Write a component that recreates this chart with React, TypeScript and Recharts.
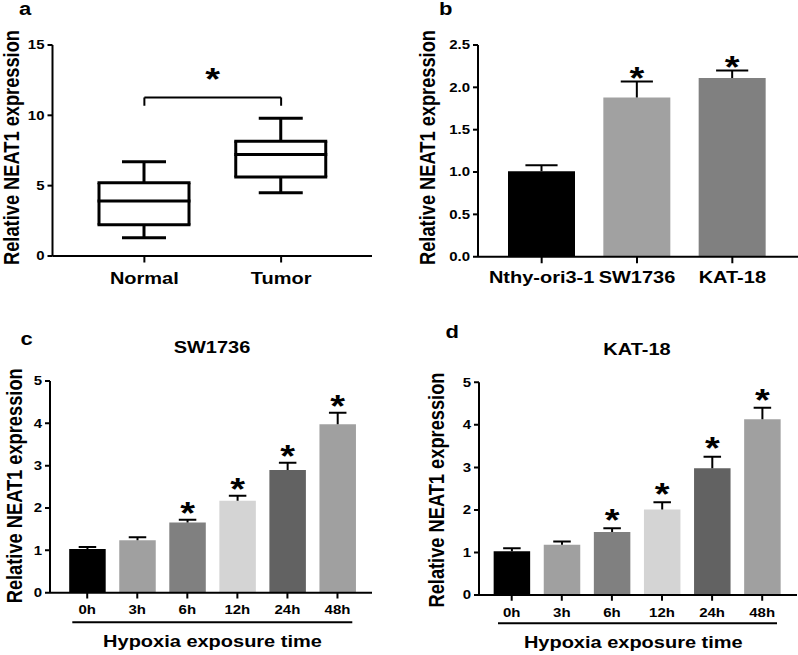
import React from 'react';
import { BarChart, Bar, XAxis, YAxis, Cell, ReferenceLine } from 'recharts';

const FONT = '"Liberation Sans", Arial, Helvetica, sans-serif';
const SY = 0.83; // the figure is vertically compressed

// ---------- Panel a (box plot) ----------
const boxGroups = ['Normal', 'Tumor'];
const boxMin = [1.3, 4.49];
const boxQ1 = [2.22, 5.62];
const boxMedian = [3.9, 7.21];
const boxQ3 = [5.2, 8.15];
const boxMax = [6.69, 9.8];
const aTicks = [0, 5, 10, 15];
const bracketY = 11.27;
const bracketLegY = 10.68;
const starText = '*';

// ---------- Panel b ----------
const cellLines = ['Nthy-ori3-1', 'SW1736', 'KAT-18'];
const cellMeans = [1.01, 1.88, 2.11];
const cellErr = [0.07, 0.19, 0.09];
const cellSig = [false, true, true];
const cellColors = ['#000000', '#a1a1a1', '#808080'];
const bTicks = [0, 0.5, 1, 1.5, 2, 2.5];

// ---------- Panels c, d ----------
const hypoxiaTimes = ['0h', '3h', '6h', '12h', '24h', '48h'];
const swMeans = [1.03, 1.24, 1.66, 2.17, 2.9, 3.98];
const swErr = [0.05, 0.07, 0.06, 0.12, 0.17, 0.27];
const katMeans = [1.03, 1.18, 1.48, 2.01, 2.98, 4.13];
const katErr = [0.07, 0.08, 0.09, 0.17, 0.27, 0.27];
const timeSig = [false, false, true, true, true, true];
const timeColors = ['#000000', '#a0a0a0', '#808080', '#d4d4d4', '#626262', '#a0a0a0'];
const cdTicks = [0, 1, 2, 3, 4, 5];

const yLabelText = 'Relative NEAT1 expression';
const xLabelText = 'Hypoxia exposure time';

const boxData = boxGroups.map((name, i) => ({
  name,
  base: boxMin[i],
  lowWhisker: boxQ1[i] - boxMin[i],
  lowBox: boxMedian[i] - boxQ1[i],
  highBox: boxQ3[i] - boxMedian[i],
  highWhisker: boxMax[i] - boxQ3[i],
}));
const cellData = cellLines.map((name, i) => ({ name, mean: cellMeans[i], err: cellErr[i], sig: cellSig[i] }));
const swData = hypoxiaTimes.map((name, i) => ({ name, mean: swMeans[i], err: swErr[i], sig: timeSig[i] }));
const katData = hypoxiaTimes.map((name, i) => ({ name, mean: katMeans[i], err: katErr[i], sig: timeSig[i] }));

const HW = 2 / SY; // horizontal line width
const BOXW = 3;

const LowWhisker = (p: any) => {
  const cx = p.x + p.width / 2;
  const cap = 22;
  return (
    <g>
      <line x1={cx} x2={cx} y1={p.y} y2={p.y + p.height} stroke="#000" strokeWidth={BOXW} />
      <line x1={cx - cap} x2={cx + cap} y1={p.y + p.height} y2={p.y + p.height} stroke="#000" strokeWidth={BOXW / SY} />
    </g>
  );
};
const HighWhisker = (p: any) => {
  const cx = p.x + p.width / 2;
  const cap = 22;
  return (
    <g>
      <line x1={cx} x2={cx} y1={p.y} y2={p.y + p.height} stroke="#000" strokeWidth={BOXW} />
      <line x1={cx - cap} x2={cx + cap} y1={p.y} y2={p.y} stroke="#000" strokeWidth={BOXW / SY} />
    </g>
  );
};
const LowBox = (p: any) => {
  const { x, y, width: w, height: h } = p;
  return (
    <g>
      <line x1={x} x2={x} y1={y} y2={y + h} stroke="#000" strokeWidth={BOXW} />
      <line x1={x + w} x2={x + w} y1={y} y2={y + h} stroke="#000" strokeWidth={BOXW} />
      <line x1={x - 1.5} x2={x + w + 1.5} y1={y + h} y2={y + h} stroke="#000" strokeWidth={BOXW / SY} />
      <line x1={x - 1.5} x2={x + w + 1.5} y1={y} y2={y} stroke="#000" strokeWidth={BOXW / SY} />
    </g>
  );
};
const HighBox = (p: any) => {
  const { x, y, width: w, height: h } = p;
  return (
    <g>
      <line x1={x} x2={x} y1={y} y2={y + h} stroke="#000" strokeWidth={BOXW} />
      <line x1={x + w} x2={x + w} y1={y} y2={y + h} stroke="#000" strokeWidth={BOXW} />
      <line x1={x - 1.5} x2={x + w + 1.5} y1={y} y2={y} stroke="#000" strokeWidth={BOXW / SY} />
    </g>
  );
};

const makeErrShape = (sig: boolean[], starDy: number) => (p: any) => {
  const { x, y, width, height } = p;
  const cx = x + width / 2;
  const half = width * 0.24;
  const isSig = p.payload && p.payload.sig !== undefined ? p.payload.sig : sig[p.index];
  return (
    <g>
      <line x1={cx} x2={cx} y1={y} y2={y + height} stroke="#000" strokeWidth={2} />
      <line x1={cx - half} x2={cx + half} y1={y} y2={y} stroke="#000" strokeWidth={HW} />
      {isSig ? (
        <text x={cx} y={y + starDy} textAnchor="middle" fontSize={38} fontWeight={700} fontFamily={FONT} fill="#000">
          {starText}
        </text>
      ) : null}
    </g>
  );
};

const makeYLabel = (X: number, Y: number) => () => (
  <text
    x={X}
    y={Y}
    transform={`rotate(-90 ${X} ${Y})`}
    textAnchor="middle"
    fontSize={22}
    fontWeight={700}
    fontFamily={FONT}
    fill="#000"
  >
    {yLabelText}
  </text>
);

const makeXLabel = (lineL: number, lineR: number, lineDy: number, textDx: number, textDy: number) => (props: any) => {
  const vb = props && props.viewBox;
  if (!vb) return null;
  return (
    <g>
      <line x1={vb.x + lineL} x2={vb.x + vb.width - lineR} y1={vb.y + lineDy} y2={vb.y + lineDy} stroke="#000" strokeWidth={HW} />
      <text x={vb.x + vb.width / 2 + textDx} y={vb.y + textDy} textAnchor="middle" fontSize={20} fontWeight={700} fontFamily={FONT} fill="#000">
        {xLabelText}
      </text>
    </g>
  );
};

const axisLineX = { stroke: '#000', strokeWidth: HW };
const axisLineY = { stroke: '#000', strokeWidth: 2 };
const tickLineX = { stroke: '#000', strokeWidth: 2 };
const tickLineY = { stroke: '#000', strokeWidth: HW };
const yTickStyle = { fill: '#000', fontSize: 15, fontWeight: 700, fontFamily: FONT };

const PanelA = () => (
  <BarChart width={400} height={385} data={boxData} margin={{ top: 54.2, right: 28, bottom: 36.6, left: 0 }}>
    <XAxis
      dataKey="name"
      interval={0}
      padding={{ left: 23.5, right: 22.5 }}
      height={40}
      tickSize={8}
      tickMargin={11}
      axisLine={axisLineX}
      tickLine={tickLineX}
      tick={{ fill: '#000', fontSize: 20, fontWeight: 700, fontFamily: FONT }}
    />
    <YAxis
      type="number"
      domain={[0, 15]}
      ticks={aTicks}
      width={52.5}
      tickSize={5}
      tickMargin={3}
      axisLine={axisLineY}
      tickLine={tickLineY}
      tick={yTickStyle}
      label={makeYLabel(19.5, 177.7)}
    />
    <Bar dataKey="base" stackId="b" fill="none" barSize={90} isAnimationActive={false} />
    <Bar dataKey="lowWhisker" stackId="b" barSize={90} isAnimationActive={false} shape={LowWhisker} />
    <Bar dataKey="lowBox" stackId="b" barSize={90} isAnimationActive={false} shape={LowBox} />
    <Bar dataKey="highBox" stackId="b" barSize={90} isAnimationActive={false} shape={HighBox} />
    <Bar dataKey="highWhisker" stackId="b" barSize={90} isAnimationActive={false} shape={HighWhisker} />
    <ReferenceLine
      segment={[{ x: 'Normal', y: bracketY }, { x: 'Tumor', y: bracketY }]}
      stroke="#000"
      strokeWidth={HW}
      ifOverflow="visible"
      label={{ value: starText, position: 'top', offset: 8.7, fill: '#000', fontSize: 38, fontWeight: 700, fontFamily: FONT }}
    />
    <ReferenceLine segment={[{ x: 'Normal', y: bracketY }, { x: 'Normal', y: bracketLegY }]} stroke="#000" strokeWidth={2} ifOverflow="visible" />
    <ReferenceLine segment={[{ x: 'Tumor', y: bracketY }, { x: 'Tumor', y: bracketLegY }]} stroke="#000" strokeWidth={2} ifOverflow="visible" />
  </BarChart>
);

const PanelB = () => (
  <BarChart width={398} height={385} data={cellData} margin={{ top: 54.2, right: 0, bottom: 35.7, left: 0 }}>
    <XAxis
      dataKey="name"
      interval={0}
      padding={{ left: 16, right: 18 }}
      height={40}
      tickSize={8}
      tickMargin={10}
      axisLine={axisLineX}
      tickLine={tickLineX}
      tick={{ fill: '#000', fontSize: 20, fontWeight: 700, fontFamily: FONT }}
    />
    <YAxis
      type="number"
      domain={[0, 2.5]}
      ticks={bTicks}
      tickFormatter={(v: number) => v.toFixed(1)}
      width={78}
      tickSize={5}
      tickMargin={3}
      axisLine={axisLineY}
      tickLine={tickLineY}
      tick={yTickStyle}
      label={makeYLabel(35.5, 177.7)}
    />
    <Bar dataKey="mean" stackId="s" barSize={67} isAnimationActive={false}>
      {cellColors.map((c, i) => (
        <Cell key={i} fill={c} />
      ))}
    </Bar>
    <Bar dataKey="err" stackId="s" barSize={67} isAnimationActive={false} shape={makeErrShape(cellSig, 9.3)} />
  </BarChart>
);

const TimePanel = (props: {
  data: any[];
  width: number;
  yAxisW: number;
  marginTop: number;
  marginRight: number;
  marginBottom: number;
  padL: number;
  padR: number;
  tickMargin: number;
  starDy: number;
  yLab: [number, number];
  xLab: [number, number, number, number, number];
}) => (
  <BarChart
    width={props.width}
    height={403}
    data={props.data}
    margin={{ top: props.marginTop, right: props.marginRight, bottom: props.marginBottom, left: 0 }}
  >
    <XAxis
      dataKey="name"
      interval={0}
      padding={{ left: props.padL, right: props.padR }}
      height={40}
      tickSize={7}
      tickMargin={props.tickMargin}
      axisLine={axisLineX}
      tickLine={tickLineX}
      tick={{ fill: '#000', fontSize: 15, fontWeight: 700, fontFamily: FONT }}
      label={makeXLabel(...props.xLab)}
    />
    <YAxis
      type="number"
      domain={[0, 5]}
      ticks={cdTicks}
      width={props.yAxisW}
      tickSize={5}
      tickMargin={3}
      axisLine={axisLineY}
      tickLine={tickLineY}
      tick={yTickStyle}
      label={makeYLabel(props.yLab[0], props.yLab[1])}
    />
    <Bar dataKey="mean" stackId="s" barSize={36.5} isAnimationActive={false}>
      {timeColors.map((c, i) => (
        <Cell key={i} fill={c} />
      ))}
    </Bar>
    <Bar dataKey="err" stackId="s" barSize={36.5} isAnimationActive={false} shape={makeErrShape(timeSig, props.starDy)} />
  </BarChart>
);

const letterStyle = { fontSize: 22, fontWeight: 700, fontFamily: FONT, fill: '#000' };
const titleStyle = { fontSize: 20, fontWeight: 700, fontFamily: FONT, fill: '#000' };

export default function App() {
  return (
    <div
      style={{
        position: 'absolute',
        left: 0,
        top: 0,
        width: 798,
        height: 789,
        transform: `scaleY(${SY})`,
        transformOrigin: '0 0',
        background: '#fff',
        overflow: 'hidden',
      }}
    >
      <div style={{ position: 'absolute', left: 0, top: 0 }}>
        <PanelA />
      </div>
      <div style={{ position: 'absolute', left: 400, top: 0 }}>
        <PanelB />
      </div>
      <div style={{ position: 'absolute', left: 0, top: 386 }}>
        <TimePanel
          data={swData}
          width={400}
          yAxisW={50}
          marginTop={73}
          marginRight={28}
          marginBottom={34.9}
          padL={12.2}
          padR={9.5}
          tickMargin={8}
          starDy={5.3}
          yLab={[22, 199.3]}
          xLab={[22.3, 19.7, 35.5, 1.5, 65.1]}
        />
      </div>
      <div style={{ position: 'absolute', left: 400, top: 386 }}>
        <TimePanel
          data={katData}
          width={398}
          yAxisW={79}
          marginTop={74.6}
          marginRight={1}
          marginBottom={32.1}
          padL={7.65}
          padR={9.75}
          tickMargin={9}
          starDy={3.3}
          yLab={[44, 204.4]}
          xLab={[19, 20, 34.1, -4.7, 64.1]}
        />
      </div>
      <svg width={798} height={789} style={{ position: 'absolute', left: 0, top: 0, pointerEvents: 'none' }}>
        <text x={19} y={18.5} {...letterStyle}>a</text>
        <text x={439} y={18.5} {...letterStyle}>b</text>
        <text x={20.5} y={415.7} {...letterStyle}>c</text>
        <text x={445.5} y={407.6} {...letterStyle}>d</text>
        <text x={212} y={425.7} textAnchor="middle" {...titleStyle}>SW1736</text>
        <text x={637} y={427.7} textAnchor="middle" {...titleStyle}>KAT-18</text>
      </svg>
    </div>
  );
}
